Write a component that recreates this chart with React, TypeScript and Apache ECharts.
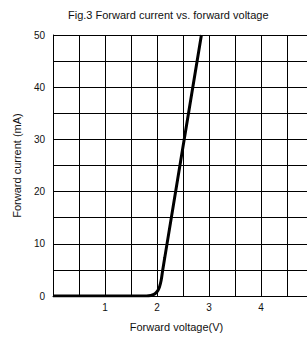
import React, { useEffect, useRef } from "react";
import * as echarts from "echarts";

const voltage = [0, 1.8, 1.88, 1.94, 1.98, 2.02, 2.05, 2.08, 2.11, 2.15, 2.854];
const current = [0, 0, 0.1, 0.3, 0.6, 1.1, 1.8, 3.0, 5.0, 7.4, 50];
const titleText = "Fig.3 Forward current vs. forward voltage";
const xName = "Forward voltage(V)";
const yName = "Forward current (mA)";

export default function App() {
  const ref = useRef<HTMLDivElement>(null);
  useEffect(() => {
    if (!ref.current) return;
    const chart = echarts.init(ref.current, undefined, { renderer: "svg" });
    const font = "'Liberation Sans', Arial, sans-serif";
    chart.setOption({
      animation: false,
      backgroundColor: "#fff",
      title: {
        text: titleText,
        left: 68,
        top: 9,
        padding: 0,
        textStyle: { fontFamily: font, fontSize: 11, fontWeight: "normal", color: "#111" },
      },
      grid: {
        left: 53,
        top: 35,
        width: 260,
        height: 261,
        containLabel: false,
        outerBoundsMode: "none",
      },
      xAxis: {
        type: "value",
        min: 0,
        max: 5,
        interval: 0.5,
        name: xName,
        nameLocation: "middle",
        nameGap: 25,
        nameTextStyle: { fontFamily: font, fontSize: 11, color: "#111", padding: [0, 13, 0, 0] },
        axisLine: { show: true, lineStyle: { color: "#000", width: 1 } },
        axisTick: { show: false },
        axisLabel: {
          fontFamily: font,
          fontSize: 10,
          color: "#111",
          margin: 6,
          formatter: (v: number) => (Number.isInteger(v) && v !== 0 && v !== 5 ? String(v) : ""),
        },
        splitLine: { show: true, lineStyle: { color: "#000", width: 1 } },
      },
      yAxis: {
        type: "value",
        min: 0,
        max: 50,
        interval: 5,
        name: yName,
        nameLocation: "middle",
        nameGap: 31,
        nameTextStyle: { fontFamily: font, fontSize: 11, color: "#111" },
        axisLine: { show: true, lineStyle: { color: "#000", width: 1 } },
        axisTick: { show: false },
        axisLabel: {
          fontFamily: font,
          fontSize: 10,
          color: "#111",
          margin: 8,
          formatter: (v: number) => (v % 10 === 0 ? String(v) : ""),
        },
        splitLine: { show: true, lineStyle: { color: "#000", width: 1 } },
      },
      series: [
        {
          type: "line",
          data: voltage.map((v, i) => [v, current[i]]),
          showSymbol: false,
          symbol: "none",
          smooth: 0.3,
          clip: true,
          lineStyle: { color: "#000", width: 3 },
        },
      ],
    });
    return () => chart.dispose();
  }, []);
  return <div ref={ref} style={{ width: 307, height: 338, position: "absolute", left: 0, top: 0 }} />;
}
